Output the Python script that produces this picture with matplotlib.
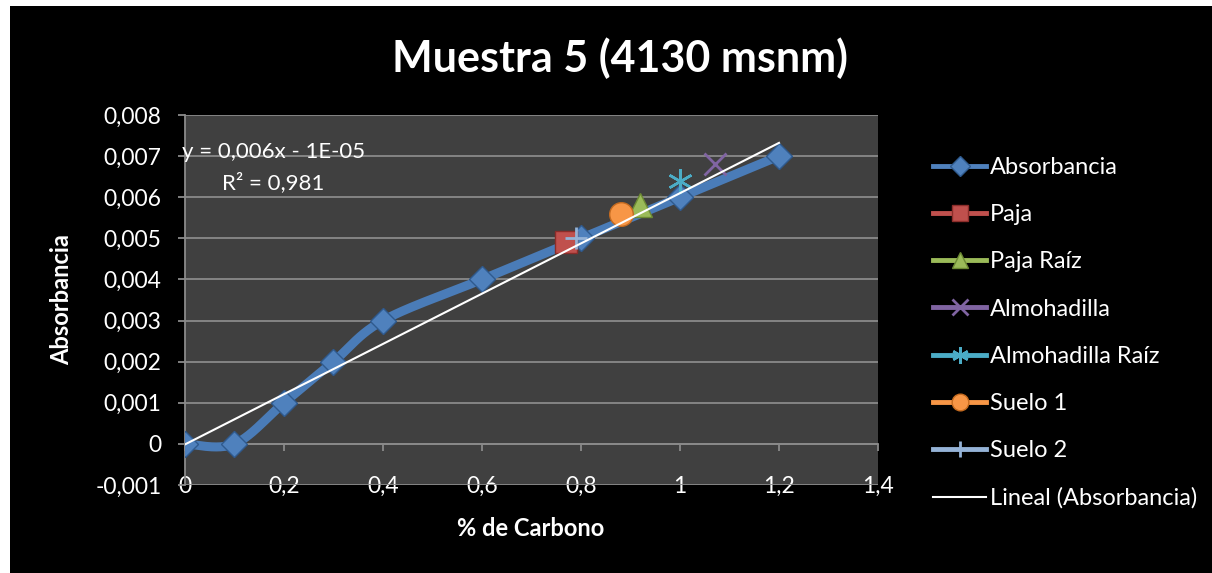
import numpy as np
import matplotlib
matplotlib.use("Agg")
import matplotlib.pyplot as plt
from matplotlib.lines import Line2D
from matplotlib.patches import Rectangle
from matplotlib.ticker import FuncFormatter

plt.rcParams['font.family'] = ['Lato', 'DejaVu Sans']

# Calibration curve
carbono = [0.0, 0.1, 0.2, 0.3, 0.4, 0.6, 0.8, 1.0, 1.2]
absorbancia = [0.0, 0.0, 0.001, 0.002, 0.003, 0.004, 0.005, 0.006, 0.007]

# Samples (x, y)
muestras = ["Paja", "Paja Raíz", "Almohadilla", "Almohadilla Raíz", "Suelo 1", "Suelo 2"]
muestras_x = [0.77, 0.92, 1.07, 1.00, 0.88, 0.79]
muestras_y = [0.0049, 0.0058, 0.0068, 0.0064, 0.0056, 0.0050]

titulo = "Muestra 5 (4130 msnm)"
x_ticks = [0, 0.2, 0.4, 0.6, 0.8, 1.0, 1.2, 1.4]
y_ticks = [-0.001, 0, 0.001, 0.002, 0.003, 0.004, 0.005, 0.006, 0.007, 0.008]

W, H = 1212, 573
FS = 16.5
fig = plt.figure(figsize=(W / 100, H / 100), dpi=100)
fig.patch.set_facecolor("white")
fig.add_artist(Rectangle((10 / W, 0), 1 - 10 / W, (H - 6) / H,
                         transform=fig.transFigure, facecolor="black",
                         edgecolor="none", zorder=-1))

ax = fig.add_axes([185 / W, 88 / H, 693 / W, 370 / H])
ax.set_facecolor("#404040")
ax.set_xlim(0, 1.4)
ax.set_ylim(-0.001, 0.008)

grid_c = "#8a8a8a"
ax.set_yticks(y_ticks)
ax.set_xticks(x_ticks)
ax.yaxis.grid(True, color=grid_c, linewidth=1.3)
ax.set_axisbelow(True)
for s in ("top", "right"):
    ax.spines[s].set_visible(False)
ax.spines["left"].set_color(grid_c)
ax.spines["left"].set_linewidth(1.3)
ax.spines["bottom"].set_position(("data", 0))
ax.spines["bottom"].set_color(grid_c)
ax.spines["bottom"].set_linewidth(1.3)


def fmt_y(v, _):
    return "0" if abs(v) < 1e-12 else f"{v:.3f}".replace(".", ",")


def fmt_x(v, _):
    return f"{v:g}".replace(".", ",")


ax.yaxis.set_major_formatter(FuncFormatter(fmt_y))
ax.xaxis.set_major_formatter(FuncFormatter(fmt_x))
ax.tick_params(axis="y", colors=grid_c, labelcolor="white", labelsize=FS,
               length=5, width=1.3, pad=12, direction="out")
ax.tick_params(axis="x", colors=grid_c, labelcolor="white", labelsize=FS,
               length=5, width=1.3, pad=18, direction="out")


# Smoothed line through the calibration points (Bezier / Catmull-Rom style)
def smooth(xs, ys, n=40):
    p = np.column_stack([xs, ys])
    out = []
    for i in range(len(p) - 1):
        p0 = p[i - 1] if i > 0 else p[i]
        p1, p2 = p[i], p[i + 1]
        p3 = p[i + 2] if i + 2 < len(p) else p[i + 1]
        c1 = p1 + (p2 - p0) / 6
        c2 = p2 - (p3 - p1) / 6
        t = np.linspace(0, 1, n)[:, None]
        seg = ((1 - t) ** 3) * p1 + 3 * ((1 - t) ** 2) * t * c1 + 3 * (1 - t) * t ** 2 * c2 + t ** 3 * p2
        out.append(seg if i == 0 else seg[1:])
    out = np.vstack(out)
    return out[:, 0], out[:, 1]


blue = "#4F81BD"
blue_edge = "#2F5A8E"
sx, sy = smooth(carbono, absorbancia)
ax.plot(sx, sy, color="#4A7CB8", linewidth=6.5, solid_capstyle="round", zorder=3)
ax.plot(carbono, absorbancia, linestyle="none", marker="D", markersize=13,
        markerfacecolor=blue, markeredgecolor=blue_edge, markeredgewidth=1, zorder=4)

estilos = [
    dict(marker="s", color="#C0504D", mec="#8C2D2A", ms=16, mew=1),
    dict(marker="^", color="#9BBB59", mec="#6C8A33", ms=17, mew=1),
    dict(marker="x", color="#8064A2", mec="#8064A2", ms=16, mew=2),
    dict(marker="*", color="#4BACC6", mec="#4BACC6", ms=18, mew=1.8),
    dict(marker="o", color="#F79646", mec="#C46A1F", ms=17, mew=1),
    dict(marker="+", color="#95B3D7", mec="#95B3D7", ms=16, mew=2),
]
for name, x, y, st in zip(muestras, muestras_x, muestras_y, estilos):
    mk = st["marker"]
    if mk == "*":
        ax.plot([x], [y], linestyle="none", marker=(6, 2, 0), markersize=st["ms"],
                markeredgecolor=st["mec"], markeredgewidth=st["mew"], zorder=5)
    else:
        ax.plot([x], [y], linestyle="none", marker=mk, markersize=st["ms"],
                markerfacecolor=st["color"], markeredgecolor=st["mec"],
                markeredgewidth=st["mew"], zorder=5)

# Linear trend line
coef = np.polyfit(carbono, absorbancia, 1)
xr = np.array([min(carbono), max(carbono)])
ax.plot(xr, np.polyval(coef, xr), color="white", linewidth=1.5, zorder=6)
pred = np.polyval(coef, carbono)
r2 = 1 - np.sum((np.array(absorbancia) - pred) ** 2) / np.sum((np.array(absorbancia) - np.mean(absorbancia)) ** 2)
sign = "-" if coef[1] < 0 else "+"
eq = f"y = {coef[0]:.3f}x {sign} {abs(coef[1]):.0E}".replace(".", ",")
fig.text(182 / W, 1 - 152 / H, eq, color="white", fontsize=16, ha="left", va="center")
fig.text(222 / W, 1 - 183 / H, f"R² = {r2:.3f}".replace(".", ","), color="white",
         fontsize=16, ha="left", va="center")

fig.text(620 / W, 1 - 58 / H, titulo, color="white", fontsize=31, fontweight="bold",
         ha="center", va="center")
fig.text(531 / W, 1 - 529 / H, "% de Carbono", color="white", fontsize=17,
         fontweight="bold", ha="center", va="center")
fig.text(62 / W, 1 - 300 / H, "Absorbancia", color="white", fontsize=17,
         fontweight="bold", ha="center", va="center", rotation=90)

# Legend
handles = [Line2D([], [], color=blue, linewidth=3.5, marker="D", markersize=10,
                  markerfacecolor=blue, markeredgecolor=blue_edge)]
for st in estilos:
    mk = st["marker"] if st["marker"] != "*" else (6, 2, 0)
    handles.append(Line2D([], [], color=st["color"], linewidth=3.5, marker=mk,
                          markersize=12, markerfacecolor=st["color"],
                          markeredgecolor=st["mec"], markeredgewidth=st["mew"]))
handles.append(Line2D([], [], color="white", linewidth=1.5))
labels = ["Absorbancia"] + muestras + ["Lineal (Absorbancia)"]
fig.legend(handles, labels, loc="upper left", bbox_to_anchor=(933 / W, 1 - 157 / H),
           frameon=False, fontsize=17, labelcolor="white", handlelength=2.25,
           handletextpad=0.17, labelspacing=1.11, borderpad=0, borderaxespad=0)

fig.savefig("out.png", dpi=100, facecolor=fig.get_facecolor())
